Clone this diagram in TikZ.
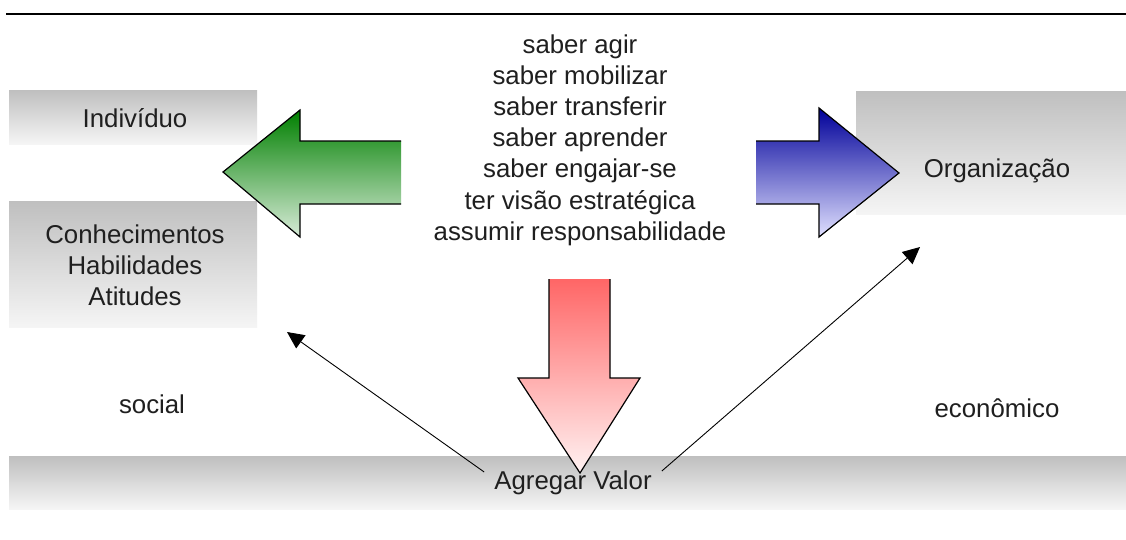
\documentclass[tikz,border=0pt]{standalone}
\usepackage{fontspec}
\setmainfont{Liberation Sans}
\usetikzlibrary{arrows.meta}
\begin{document}
\begin{tikzpicture}[x=1pt,y=-1pt,
  txt/.style={font=\fontsize{25.8}{31.2}\selectfont, text=black!88, align=center, inner sep=0pt},
  graybox/.style={top color=black!25, bottom color=black!4, draw=none},
  outline/.style={draw=black, line width=1.2pt, line join=miter},
  thin/.style={draw=black, line width=0.9pt, -{Triangle[length=17pt,width=16pt]}}]
\useasboundingbox (0,0) rectangle (1126,539);
\fill[white] (0,0) rectangle (1126,539);
% top rule
\draw[line width=1.8pt] (6,14) -- (1126,14);
% gray boxes
\shade[graybox] (9,90) rectangle (257,144);
\shade[graybox] (9,201) rectangle (257,327);
\shade[graybox] (856,91) rectangle (1126,214);
\shade[graybox] (9,456) rectangle (1126,509);
% green arrow (left)
\shade[top color=green!50!black, bottom color=green!50!black!15] (401,141) -- (300,141) -- (300,110) -- (223,172) -- (300,237) -- (300,204) -- (401,204) -- cycle;
\draw[outline] (401,141) -- (300,141) -- (300,110) -- (223,172) -- (300,237) -- (300,204) -- (401,204);
% blue arrow (right)
\shade[top color=blue!60!black, bottom color=blue!12] (756,141) -- (819,141) -- (819,108) -- (899,173) -- (819,237) -- (819,204) -- (756,204) -- cycle;
\draw[outline] (756,141) -- (819,141) -- (819,108) -- (899,173) -- (819,237) -- (819,204) -- (756,204);
% red arrow (down)
\shade[top color=red!60, bottom color=red!5] (549,279) -- (549,378) -- (518,378) -- (580,473) -- (640,378) -- (610,378) -- (610,279) -- cycle;
\draw[outline] (549,279) -- (549,378) -- (518,378) -- (580,473) -- (640,378) -- (610,378) -- (610,279);
% texts
\node[txt] (center) at (580,140) {saber agir\\saber mobilizar\\saber transferir\\saber aprender\\saber engajar-se\\ter visão estratégica\\assumir responsabilidade};
\node[txt] (ind) at (135,118) {Indivíduo};
\node[txt] (cha) at (135,265) {Conhecimentos\\Habilidades\\Atitudes};
\node[txt] (org) at (997,171) {Organização};
\node[txt] (soc) at (152,404) {social};
\node[txt] (eco) at (997,408) {econômico};
\node[txt] (av) at (573,483) {Agregar Valor};
\coordinate (lt) at (287,332);
\coordinate (rt) at (920,247);
\draw[thin] (av.west) ++(-10,-11) -- (lt);
\draw[thin] (av.east) ++(10,-12) -- (rt);
\end{tikzpicture}
\end{document}
